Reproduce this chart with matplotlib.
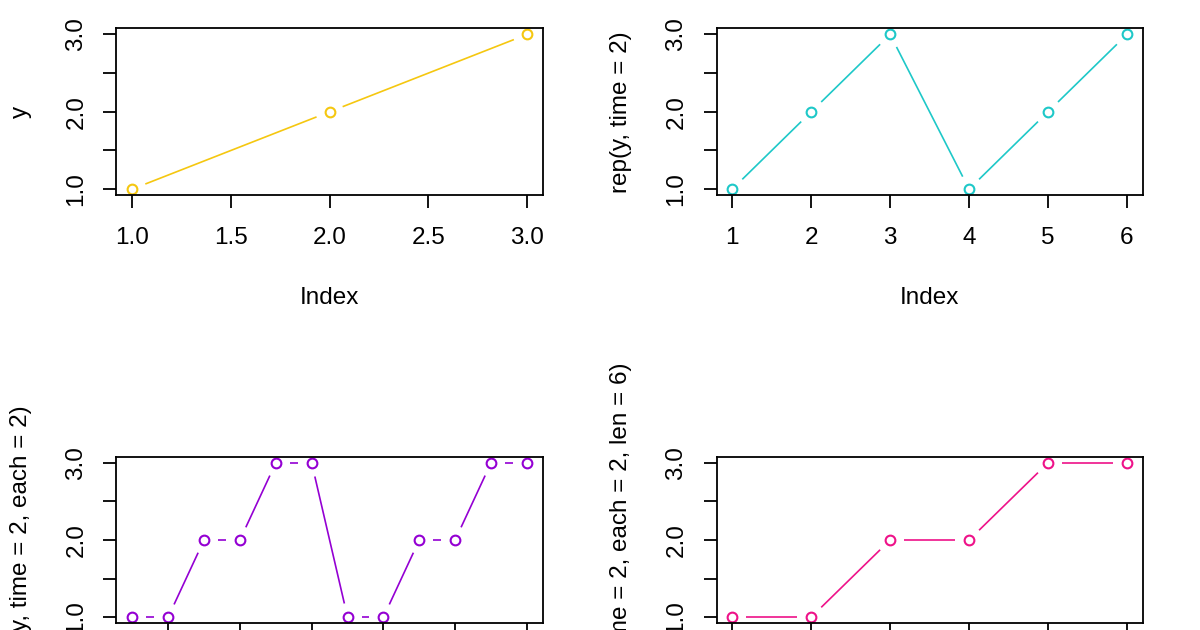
import numpy as np
import matplotlib
matplotlib.use("Agg")
import matplotlib.pyplot as plt

# -------------------------
# Data
# -------------------------

y = [1, 2, 3]
rep_times = [1, 2, 3, 1, 2, 3]
rep_each = [1, 1, 2, 2, 3, 3, 1, 1, 2, 2, 3, 3]
rep_len = [1, 1, 2, 2, 3, 3]

ylabels = [
    "y",
    "rep(y, time = 2)",
    "rep(y, time = 2, each = 2)",
    "rep(y, time = 2, each = 2, len = 6)",
]
colors = ["#F5C710", "#1EC8C8", "#9400D3", "#EE1289"]

xticks_tl = [1.0, 1.5, 2.0, 2.5, 3.0]
xticklabels_tl = ["1.0", "1.5", "2.0", "2.5", "3.0"]
yticks = [1.0, 1.5, 2.0, 2.5, 3.0]
yticklabels = ["1.0", "", "2.0", "", "3.0"]

plt.rcParams["font.family"] = ["Liberation Sans", "DejaVu Sans"]
FS = 17.5

W, H = 1200, 630
fig = plt.figure(figsize=(W / 100, H / 100), dpi=100)


def add_box(x0, y0, x1, y1):
    # pixel box (top-left origin) -> figure fraction
    return fig.add_axes([x0 / W, 1 - y1 / H, (x1 - x0) / W, (y1 - y0) / H])


def type_b(ax, yv, color, gap=14):
    # R-style type="b": points joined by lines that stop short of each point
    xv = np.arange(1, len(yv) + 1)
    pts = ax.transData.transform(np.column_stack([xv, yv]))
    inv = ax.transData.inverted()
    for p0, p1 in zip(pts[:-1], pts[1:]):
        d = p1 - p0
        L = np.hypot(*d)
        if L <= 2 * gap:
            continue
        u = d / L
        seg = inv.transform([p0 + u * gap, p1 - u * gap])
        ax.plot(seg[:, 0], seg[:, 1], color=color, lw=1.2,
                solid_capstyle="butt", clip_on=False)
    ax.plot(xv, yv, "o", mfc="none", mec=color, mew=1.5, ms=7.0,
            clip_on=False)


def style(ax, ylabel, xticks, xticklabels, bottom_row=False):
    for s in ax.spines.values():
        s.set_linewidth(1.3)
    ax.set_yticks(yticks)
    ax.set_yticklabels(yticklabels, rotation=90, va="center")
    ax.set_xticks(xticks)
    ax.tick_params(axis="both", direction="out", length=9.5, width=1.3,
                   labelsize=FS, colors="black")
    ax.tick_params(axis="x", pad=13.5)
    ax.tick_params(axis="y", pad=11.5)
    ax.set_ylabel(ylabel, fontsize=FS, labelpad=24)
    if bottom_row:
        # tick labels and "Index" fall below the visible area
        ax.set_xticklabels([])
    else:
        ax.set_xticklabels(xticklabels)
        ax.set_xlabel("Index", fontsize=FS, labelpad=27)


# top-left
ax1 = add_box(116.5, 28.3, 542.7, 195.3)
ax1.set_xlim(0.92, 3.08)
ax1.set_ylim(0.92, 3.08)
style(ax1, ylabels[0], xticks_tl, xticklabels_tl)
type_b(ax1, y, colors[0])

# top-right
ax2 = add_box(716.5, 28.3, 1142.7, 195.3)
ax2.set_xlim(0.8, 6.2)
ax2.set_ylim(0.92, 3.08)
style(ax2, ylabels[1], [1, 2, 3, 4, 5, 6], ["1", "2", "3", "4", "5", "6"])
type_b(ax2, rep_times, colors[1])

# bottom-left
ax3 = add_box(116.5, 456.7, 542.7, 623.3)
ax3.set_xlim(0.56, 12.44)
ax3.set_ylim(0.92, 3.08)
style(ax3, ylabels[2], [2, 4, 6, 8, 10, 12],
      ["2", "4", "6", "8", "10", "12"], bottom_row=True)
type_b(ax3, rep_each, colors[2])

# bottom-right
ax4 = add_box(716.5, 456.7, 1142.7, 623.3)
ax4.set_xlim(0.8, 6.2)
ax4.set_ylim(0.92, 3.08)
style(ax4, ylabels[3], [1, 2, 3, 4, 5, 6], ["1", "2", "3", "4", "5", "6"],
      bottom_row=True)
type_b(ax4, rep_len, colors[3])

fig.savefig("out.png", dpi=100)
